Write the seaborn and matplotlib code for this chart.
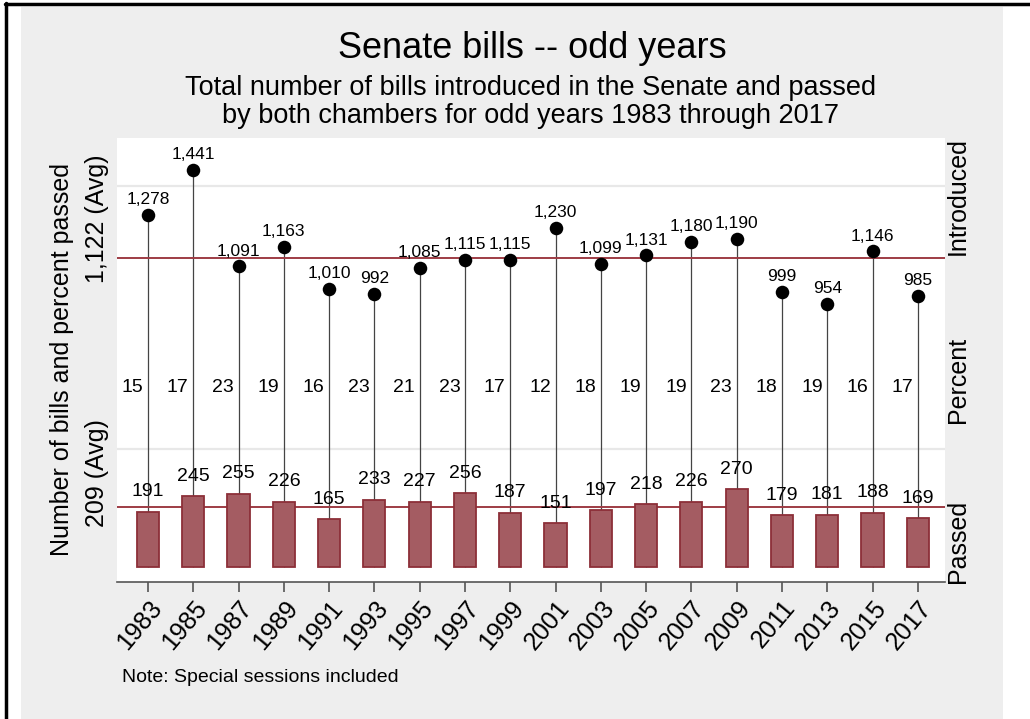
import matplotlib
matplotlib.use("Agg")
import matplotlib.pyplot as plt
import matplotlib.transforms as mtransforms
from matplotlib.patches import Rectangle
from matplotlib.lines import Line2D
import seaborn as sns
import pandas as pd

# ---- data ----
years = ["1983", "1985", "1987", "1989", "1991", "1993", "1995", "1997", "1999",
         "2001", "2003", "2005", "2007", "2009", "2011", "2013", "2015", "2017"]
introduced = [1278, 1441, 1091, 1163, 1010, 992, 1085, 1115, 1115,
              1230, 1099, 1131, 1180, 1190, 999, 954, 1146, 985]
passed = [191, 245, 255, 226, 165, 233, 227, 256, 187,
          151, 197, 218, 226, 270, 179, 181, 188, 169]
percent = [15, 17, 23, 19, 16, 23, 21, 23, 17, 12, 18, 19, 19, 23, 18, 19, 16, 17]

df = pd.DataFrame({"year": years, "introduced": introduced,
                   "passed": passed, "percent": percent})
df["pos"] = range(len(df))
avg_intro = sum(introduced) / len(introduced)
avg_passed = sum(passed) / len(passed)

sns.set_theme(style="white")
plt.rcParams["font.family"] = ["Liberation Sans", "DejaVu Sans"]
plt.rcParams["text.color"] = "black"
plt.rcParams["xtick.color"] = "black"

W, H = 1030, 719
fig = plt.figure(figsize=(W / 100, H / 100), dpi=100, facecolor="white")

# background gray region + black frame
fig.patches.append(Rectangle((21 / W, 0), (1003 - 21) / W, 1 - 7 / H,
                             transform=fig.transFigure, facecolor="#eeeeee",
                             edgecolor="none", zorder=-5))
fig.lines.append(Line2D([6 / W, 6 / W], [0, 1 - 3 / H], transform=fig.transFigure,
                        color="black", lw=2.5, zorder=-4))
fig.lines.append(Line2D([5 / W, 1], [1 - 4 / H, 1 - 4 / H], transform=fig.transFigure,
                        color="black", lw=2.5, zorder=-4))

L, R, T, B = 117, 945, 138, 582
ax = fig.add_axes([L / W, 1 - B / H, (R - L) / W, (B - T) / H])
ax.set_facecolor("white")
ax2 = ax.twinx()

bar_face = "#a45c62"
bar_edge = "#8c2f38"
avg_col = "#9e3c44"

# scales (y=0 sits ~15px above the axis line on both)
ax.set_ylim(-56, 1558)
ax2.set_ylim(-54, 1498)
ax.set_xlim(-0.684, 17.6)

# gridlines
for fy in (0.892, 0.300):
    ax.axhline(fy * (1558 + 56) - 56, color="#e8e8e8", lw=1.6, zorder=0)

# stems
ax.vlines(df["pos"], 0, df["introduced"], color="#444444", lw=0.9, zorder=1)
# dots
sns.scatterplot(data=df, x="pos", y="introduced", ax=ax, color="black", s=95,
                edgecolor="black", linewidth=0, zorder=3, legend=False)
ax.axhline(avg_intro, color=avg_col, lw=1.4, zorder=2)

# bars
sns.barplot(data=df, x="year", y="passed", ax=ax2, color=bar_face, width=0.49,
            saturation=1, edgecolor=bar_edge, linewidth=1.3, zorder=2)
ax2.axhline(avg_passed, color=avg_col, lw=1.4, zorder=1)
ax2.set_xlim(-0.684, 17.6)

# labels
tr = mtransforms.blended_transform_factory(ax.transData, ax.transAxes)
for i, r in df.iterrows():
    ax.annotate(f"{r['introduced']:,}", (r["pos"], r["introduced"]),
                xytext=(0, 11), textcoords="offset points", ha="center",
                va="center", fontsize=12.5, zorder=5)
    ax2.annotate(f"{r['passed']}", (r["pos"], r["passed"]),
                 xytext=(0, 14.5), textcoords="offset points", ha="center",
                 va="center", fontsize=14, zorder=5)
    ax.text(r["pos"] - 0.1, 0.439, f"{r['percent']}", transform=tr,
            ha="right", va="center", fontsize=14)

# axes styling
for sp in ("top", "right", "left"):
    ax.spines[sp].set_visible(False)
    ax2.spines[sp].set_visible(False)
ax2.spines["bottom"].set_visible(False)
ax.spines["bottom"].set_color("#555555")
ax.spines["bottom"].set_linewidth(1.2)
ax.set_yticks([])
ax2.set_yticks([])
ax.set_ylabel("")
ax2.set_ylabel("")
ax.set_xlabel("")
ax2.set_xlabel("")
ax2.tick_params(axis="x", bottom=False, labelbottom=False)
ax.set_xticks(df["pos"])
ax.set_xticklabels(years, rotation=50, ha="right", rotation_mode="anchor",
                   fontsize=18)
ax.tick_params(axis="x", bottom=True, length=7, width=1.2, color="#555555",
               pad=3, direction="out")

# side texts (figure pixel coords)
def ftext(x, y, s, **kw):
    fig.text(x / W, 1 - y / H, s, **kw)

ftext(532, 48, "Senate bills -- odd years", ha="center", va="center", fontsize=26)
ftext(531, 88, "Total number of bills introduced in the Senate and passed",
      ha="center", va="center", fontsize=19.5)
ftext(531, 116, "by both chambers for odd years 1983 through 2017",
      ha="center", va="center", fontsize=19.5)
ftext(62, 360, "Number of bills and percent passed", rotation=90, ha="center",
      va="center", fontsize=18)
ftext(97, 219, "1,122 (Avg)", rotation=90, ha="center", va="center", fontsize=18)
ftext(97, 473, "209 (Avg)", rotation=90, ha="center", va="center", fontsize=18)
ftext(958, 196, "Introduced", rotation=90, ha="center", va="center", fontsize=18)
ftext(958, 380, "Percent", rotation=90, ha="center", va="center", fontsize=18)
ftext(958, 541, "Passed", rotation=90, ha="center", va="center", fontsize=18)
ftext(122, 678, "Note: Special sessions included", ha="left", va="center", fontsize=14)

fig.savefig("out.png", dpi=100, facecolor="white")
